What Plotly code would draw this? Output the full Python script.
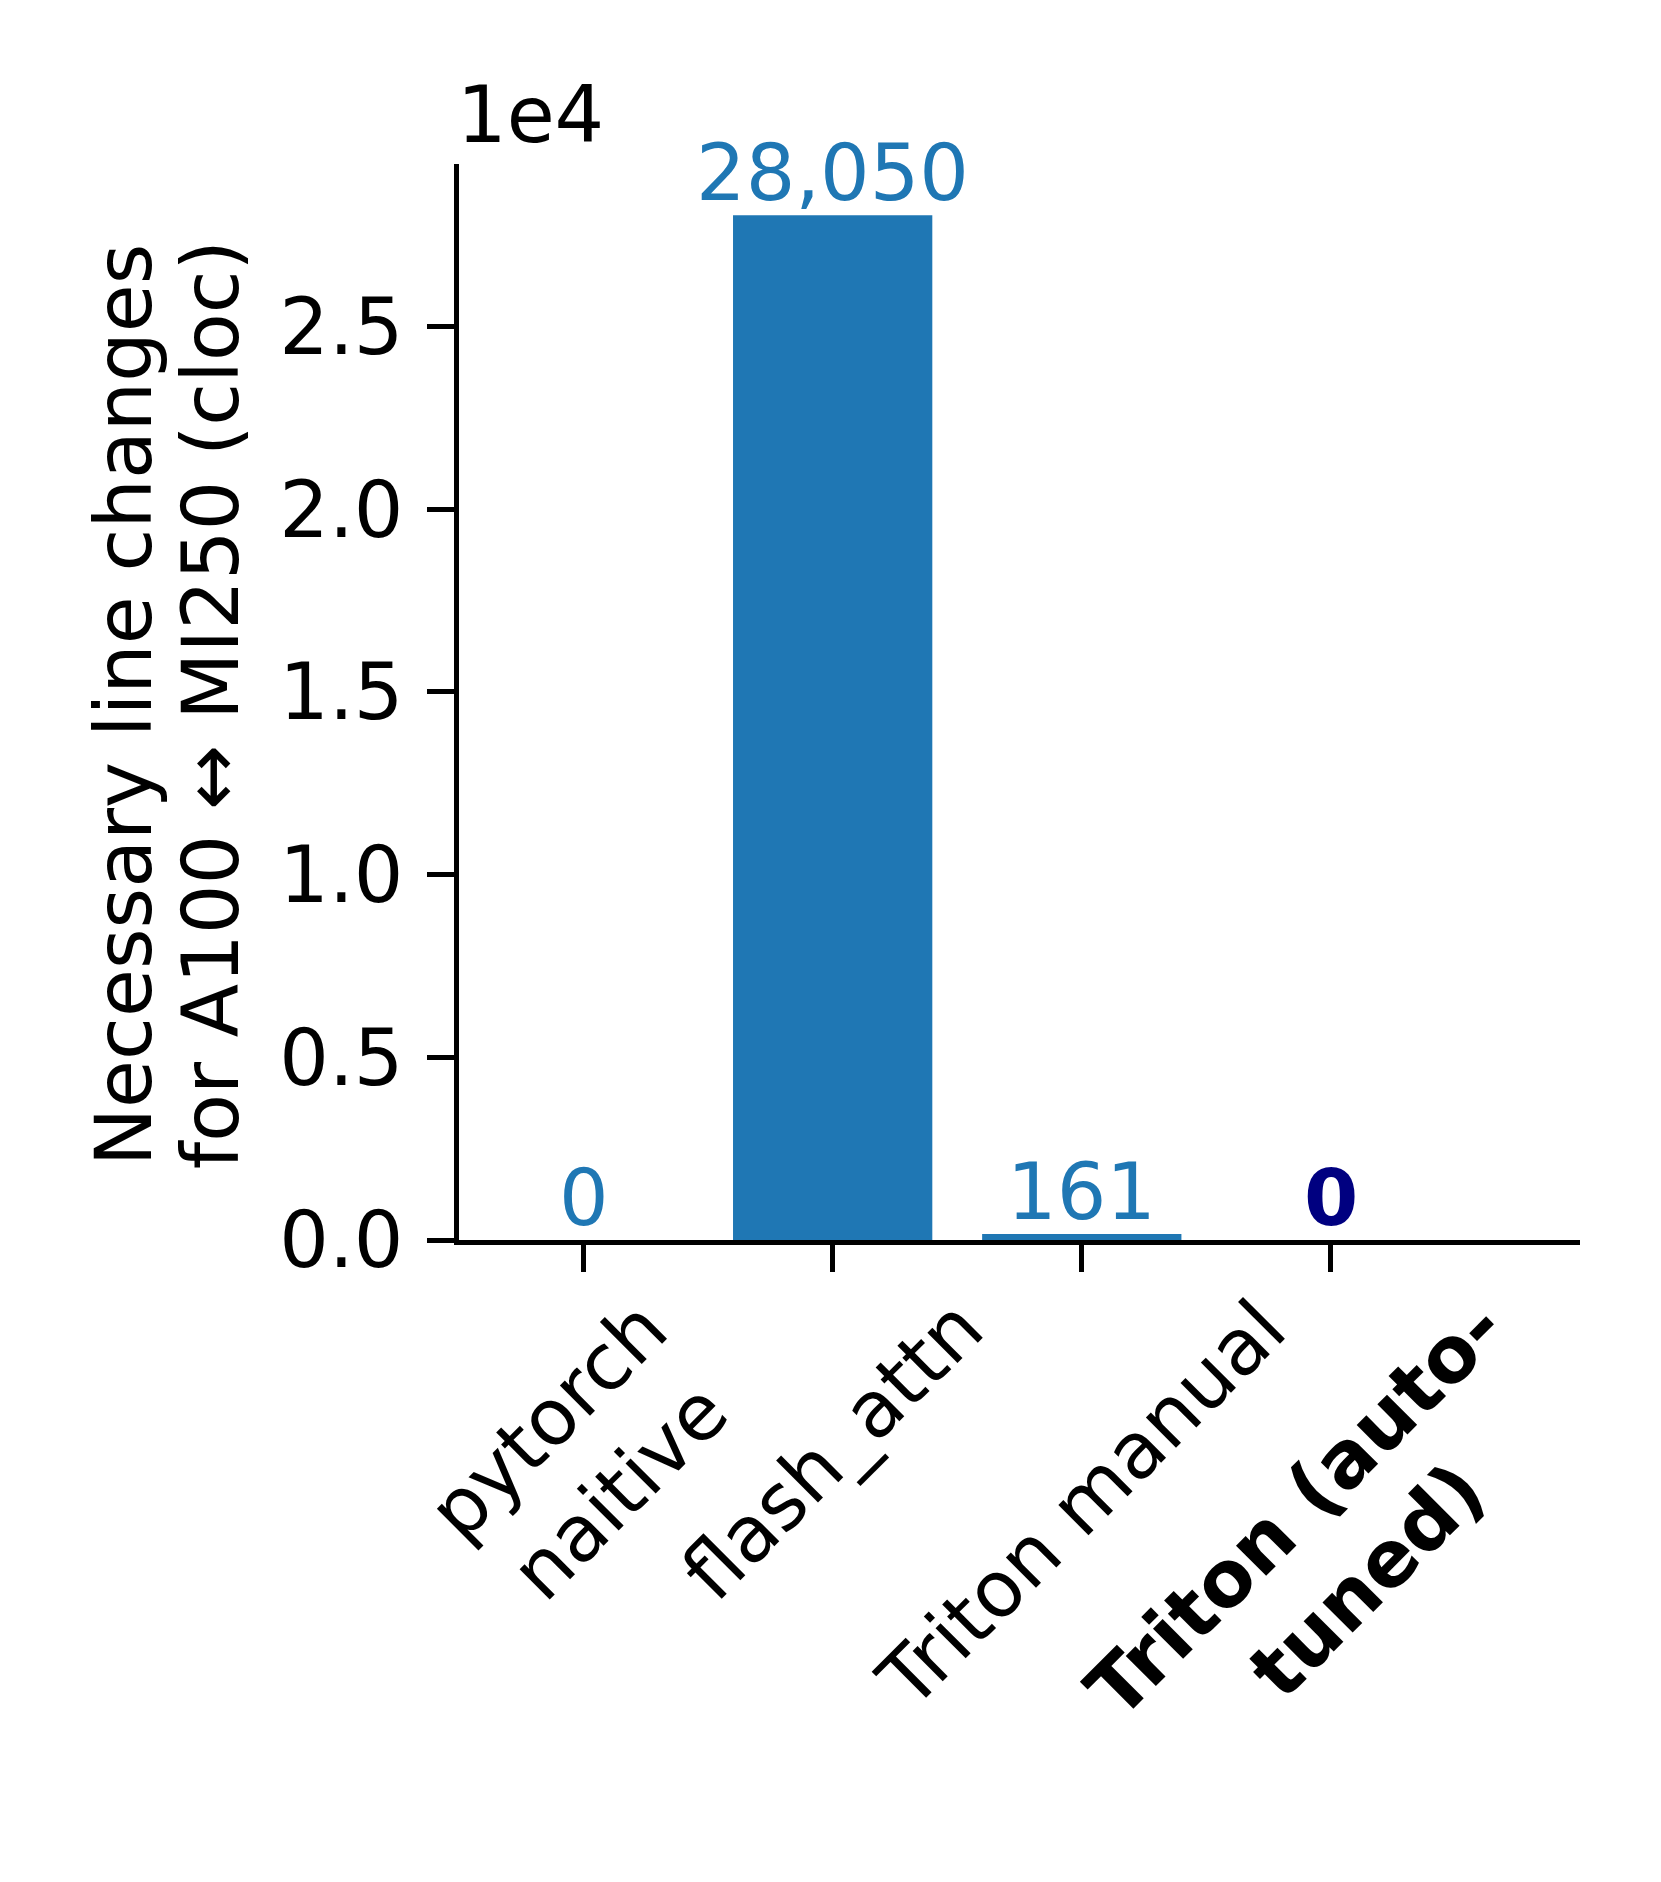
import plotly.graph_objects as go

# data
categories = ['pytorch naitive', 'flash_attn', 'Triton manual', 'Triton (auto-tuned)']
tick_labels = ['pytorch<br>naitive', 'flash_attn', 'Triton manual', '<b>Triton (auto-<br>tuned)</b>']
line_changes = [0, 28050, 161, 0]
value_labels = ['0', '28,050', '161', '<b>0</b>']
label_colors = ['#1f77b4', '#1f77b4', '#1f77b4', '#000080']
y_tickvals = [0, 5000, 10000, 15000, 20000, 25000]
y_ticktext = ['0.0', '0.5', '1.0', '1.5', '2.0', '2.5']

FONT = 'DejaVu Sans'
FS = 78

fig = go.Figure()

fig.add_trace(go.Bar(
    x=categories,
    y=line_changes,
    width=0.8,
    marker=dict(color='#1f77b4', line=dict(width=0)),
    showlegend=False,
))

# value labels on top of bars
for cat, val, txt, col in zip(categories, line_changes, value_labels, label_colors):
    fig.add_annotation(
        x=cat, y=val, xref='x', yref='y',
        text=txt, showarrow=False,
        xanchor='center', yanchor='bottom', yshift=-5,
        font=dict(family=FONT, size=FS, color=col),
    )

# rotated category labels (centred under ticks, like matplotlib)
for cat, lab in zip(categories, tick_labels):
    fig.add_annotation(
        x=cat, y=0, xref='x', yref='y',
        text=lab, showarrow=False, textangle=-45,
        xanchor='center', yanchor='top', yshift=-40,
        font=dict(family=FONT, size=FS, color='black'),
    )

# y-axis title, two lines
fig.add_annotation(
    x=-0.2988, y=0.497, xref='paper', yref='paper',
    text='Necessary line changes', showarrow=False, textangle=-90,
    xanchor='center', yanchor='middle',
    font=dict(family=FONT, size=FS, color='black'),
)
fig.add_annotation(
    x=-0.2212, y=0.497, xref='paper', yref='paper',
    text='for A100 \u2194 MI250 (cloc)', showarrow=False, textangle=-90,
    xanchor='center', yanchor='middle',
    font=dict(family=FONT, size=FS, color='black'),
)

# offset text
fig.add_annotation(
    x=0, y=1, xref='paper', yref='paper',
    text='1e4', showarrow=False,
    xanchor='left', yanchor='bottom', yshift=2, xshift=-4,
    font=dict(family=FONT, size=FS, color='black'),
)

fig.update_layout(
    width=1661,
    height=1882,
    margin=dict(l=451, r=89, t=156, b=650),
    plot_bgcolor='white',
    paper_bgcolor='white',
    font=dict(family=FONT, size=FS, color='black'),
    bargap=0.2,
    xaxis=dict(
        type='category',
        range=[-0.5, 4.0],
        showline=True, linecolor='black', linewidth=5,
        ticks='outside', ticklen=27, tickwidth=5, tickcolor='black',
        showticklabels=False,
        showgrid=False, zeroline=False,
    ),
    yaxis=dict(
        range=[0, 29452],
        tickvals=y_tickvals,
        ticktext=y_ticktext,
        showline=True, linecolor='black', linewidth=5,
        ticks='outside', ticklen=27, tickwidth=5, tickcolor='black',
        tickfont=dict(family=FONT, size=FS, color='black'),
        ticklabelstandoff=8,
        showgrid=False, zeroline=False,
    ),
)

fig.write_html('out.html')
